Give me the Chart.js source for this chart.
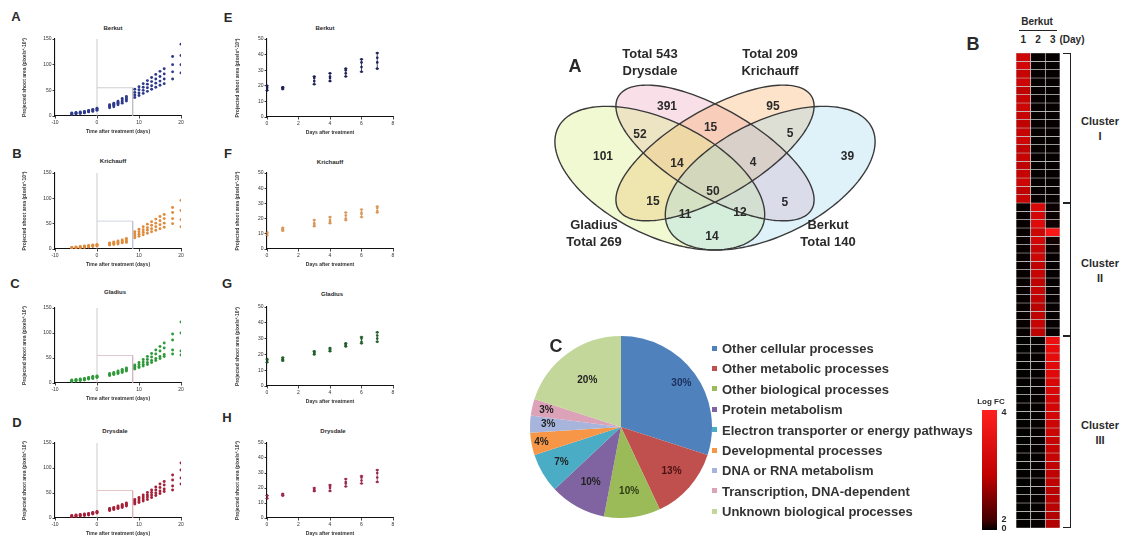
<!DOCTYPE html>
<html><head><meta charset="utf-8">
<script src="https://cdn.jsdelivr.net/npm/chart.js@4.4.1/dist/chart.umd.min.js"></script>
<style>
body{margin:0;width:1126px;height:539px;background:#fff;position:relative;overflow:hidden;font-family:"Liberation Sans",Arial,sans-serif;}
canvas{position:absolute;}
.t{position:absolute;white-space:nowrap;color:#2a2a2a;font-weight:bold;transform:translate(-50%,-50%);line-height:1;}
.br{position:absolute;border:1.3px solid #222;border-left:none;box-sizing:border-box;}
</style></head><body>
<script>
// ---------------- DATA ----------------
const LEFT_DAYS = [-6,-5,-4,-3,-2,-1,0,3,4,5,6,7,9,10,11,12,13,14,15,16,18,20];
const BERKUT_L = [
 [3,4,5,6,8,9,11,16,18,22,25,29,36,40,44,48,52,56,60,63,72,84],
 [4,5,6,7,9,10,12,18,21,25,28,32,41,45,50,55,59,64,68,72,86,100],
 [5,6,7,8,10,12,14,20,23,27,31,35,46,51,56,62,67,72,77,82,100,118],
 [6,7,8,9,11,13,15,22,25,29,34,38,52,57,63,69,75,81,87,92,116,140]];
const KRICHAUFF_L = [
 [1,2,2,3,4,5,6,8,9,10,12,13,22,25,28,31,34,37,40,43,50,44],
 [2,3,3,4,5,6,7,9,11,12,14,15,26,29,33,37,40,44,48,51,60,58],
 [3,3,4,5,6,7,8,11,12,14,16,18,30,34,38,42,47,51,56,60,72,76],
 [3,4,5,6,7,8,9,12,14,16,18,21,34,39,44,49,54,59,64,68,82,96]];
const GLADIUS_L = [
 [3,4,5,6,8,9,11,15,17,19,21,24,28,31,34,37,41,45,49,53,58,56],
 [4,5,6,7,9,10,12,16,18,20,23,26,30,33,37,41,45,49,53,57,66,64],
 [5,6,7,8,10,12,13,17,19,22,25,28,33,37,42,47,52,58,64,70,86,100],
 [6,7,8,9,11,13,14,19,21,24,27,30,36,41,47,53,59,66,73,80,98,122]];
const DRYSDALE_L = [
 [2,3,4,5,6,8,10,15,17,19,21,24,28,31,34,37,41,45,49,53,56,68],
 [3,4,5,6,7,9,11,16,18,20,23,26,31,34,38,42,46,50,54,58,64,80],
 [4,5,6,7,8,10,12,18,20,22,25,28,34,38,42,46,51,56,61,66,76,96],
 [5,6,7,8,9,11,13,19,21,24,27,30,37,41,46,51,56,62,68,73,86,110]];
const RIGHT_DAYS = [0,1,3,4,5,6,7];
const BERKUT_R = [[17,18,21,23,26,29,31],[18,18,23,25,28,32,35],[19,19,25,26,30,35,38],[20,19,26,28,31,37,41]];
const KRICHAUFF_R = [[9,12,15,17,19,21,24],[10,13,16,18,20,23,25],[10,13,17,19,22,24,27],[11,14,19,21,24,26,28]];
const GLADIUS_R = [[15,16,20,22,25,27,28],[16,17,21,23,26,28,30],[16,17,21,23,26,30,32],[17,18,22,24,27,31,34]];
const DRYSDALE_R = [[13,15,18,18,21,23,24],[14,15,18,20,23,25,27],[15,16,19,21,24,27,30],[15,16,20,22,26,28,32]];
const ZOOM_BOX_DAYS = [0, 8.5];
const ZOOM_BOX_AREA = [0, 55];

const VENN_SETS = ['Drysdale','Krichauff','Gladius','Berkut'];
const VENN_TOTALS = [543, 209, 269, 140];
const VENN_COUNTS = [391,95,52,15,5,101,14,4,39,50,15,5,11,12,14];

const PIE_LABELS = ['Other cellular processes','Other metabolic processes','Other biological processes','Protein metabolism','Electron transporter or energy pathways','Developmental processes','DNA or RNA metabolism','Transcription, DNA-dependent','Unknown biological processes'];
const PIE_VALUES = [30,13,10,10,7,4,3,3,20];

const HM_DAYS = ['1','2','3'];
const CLUSTER_NAMES = ['I','II','III'];
const CLUSTER_SIZES = [18,16,23];
const HM_DAY1 = [3.2,3.3,3.1,3.2,3.0,3.1,3.2,3.1,3.0,3.1,3.2,3.0,3.1,3.0,3.1,3.2,3.0,3.1,
 0.1,0.1,0.1,0.1,0.1,0.1,0.1,0.1,0.1,0.1,0.1,0.1,0.1,0.1,0.1,0.1,
 0.05,0.05,0.05,0.05,0.05,0.05,0.05,0.05,0.05,0.05,0.05,0.05,0.05,0.05,0.05,0.05,0.05,0.05,0.05,0.05,0.05,0.05,0.05];
const HM_DAY2 = [0.1,0.1,0.1,0.1,0.1,0.1,0.1,0.1,0.1,0.1,0.1,0.1,0.1,0.1,0.1,0.1,0.1,0.1,
 3.4,3.3,3.5,3.2,3.3,3.1,3.2,3.0,3.1,3.0,3.1,3.0,2.9,3.0,3.1,3.0,
 0.1,0.1,0.1,0.1,0.1,0.1,0.1,0.1,0.1,0.1,0.1,0.1,0.1,0.1,0.1,0.1,0.1,0.1,0.1,0.1,0.1,0.1,0.1];
const HM_DAY3 = [0.1,0.1,0.1,0.1,0.1,0.1,0.1,0.1,0.1,0.1,0.1,0.1,0.1,0.1,0.1,0.1,0.1,0.1,
 0.2,0.2,0.3,3.9,0.3,0.2,0.1,0.1,0.1,0.1,0.1,0.1,0.1,0.1,0.1,0.1,
 3.7,3.6,3.6,3.5,3.5,3.4,3.4,3.3,3.3,3.3,3.2,3.2,3.1,3.1,3.1,3.0,3.0,3.0,2.9,2.9,2.9,2.8,2.8];
const LOGFC_TICKS = ['4','2','0'];

// ---------------- HELPERS ----------------
Chart.defaults.font.family = '"Liberation Sans", Arial, sans-serif';
Chart.defaults.animation = false;
function mkCanvas(l,t,w,h){const c=document.createElement('canvas');c.width=w;c.height=h;
 Object.assign(c.style,{left:l+'px',top:t+'px',width:w+'px',height:h+'px'});document.body.appendChild(c);return c;}
function txt(x,y,s,size,extra){const d=document.createElement('div');d.className='t';d.textContent=s;
 d.style.left=x+'px';d.style.top=y+'px';d.style.fontSize=size+'px';if(extra)Object.assign(d.style,extra);document.body.appendChild(d);return d;}

// error bars (min..max of replicates) drawn through the chart scales
const errorBarPlugin={id:'errbars',afterDatasetsDraw(chart,args,opts){
 if(!opts.reps)return;const ctx=chart.ctx,xs=chart.scales.x,ys=chart.scales.y;
 ctx.save();ctx.strokeStyle=opts.color;ctx.lineWidth=0.8;
 opts.days.forEach((d,i)=>{const vals=opts.reps.map(r=>r[i]);const lo=Math.min(...vals),hi=Math.max(...vals);
  const x=xs.getPixelForValue(d),y0=ys.getPixelForValue(lo),y1=ys.getPixelForValue(hi);
  ctx.beginPath();ctx.moveTo(x,y0);ctx.lineTo(x,y1);ctx.moveTo(x-1.8,y0);ctx.lineTo(x+1.8,y0);ctx.moveTo(x-1.8,y1);ctx.lineTo(x+1.8,y1);ctx.stroke();});
 ctx.restore();}};

function panel(p){
 const xH=21, padL=1;
 const box={l:p.area.l-p.yW-padL, t:p.area.t-7, r:p.area.r+10};
 box.w=box.r-box.l; box.h=p.area.b+xH+1-box.t;
 const c=mkCanvas(box.l,box.t,box.w,box.h);
 const pts=[]; p.reps.forEach(r=>r.forEach((v,i)=>pts.push({x:p.days[i],y:v})));
 const ds=[{data:pts,backgroundColor:p.color,borderWidth:0,pointRadius:p.guides?1.45:1.3,order:1}];
 if(p.guides){
  ds.push({data:[{x:0,y:p.yMin},{x:0,y:p.yMax}],showLine:true,borderColor:'#b4b4b4',borderWidth:0.7,pointRadius:0,order:3});
  ds.push({data:[{x:ZOOM_BOX_DAYS[0],y:ZOOM_BOX_AREA[1]},{x:ZOOM_BOX_DAYS[1],y:ZOOM_BOX_AREA[1]},{x:ZOOM_BOX_DAYS[1],y:ZOOM_BOX_AREA[0]}],showLine:true,borderColor:p.boxColor,borderWidth:0.7,pointRadius:0,order:2});
 }
 new Chart(c,{type:'scatter',data:{datasets:ds},plugins:[errorBarPlugin],options:{responsive:false,
  layout:{padding:{left:padL,top:p.area.t-box.t,right:box.r-p.area.r,bottom:box.t+box.h-p.area.b-xH}},
  plugins:{legend:{display:false},tooltip:{enabled:false},errbars:p.guides?{}:{reps:p.reps,days:p.days,color:p.color}},
  scales:{
   x:{type:'linear',min:p.xMin,max:p.xMax,afterFit:s=>{s.height=xH;},
      ticks:{stepSize:p.xStep,font:{size:5},color:'#333',padding:1,maxRotation:0},
      grid:{drawOnChartArea:false,tickLength:2.5,color:'#111',lineWidth:0.8},border:{color:'#111',width:1.1},
      title:{display:true,text:p.xTitle,font:{size:5,weight:'bold'},color:'#333',padding:{top:0,bottom:2}}},
   y:{type:'linear',min:p.yMin,max:p.yMax,afterFit:s=>{s.width=p.yW;},
      ticks:{stepSize:p.yStep,font:{size:5},color:'#333',padding:1},
      grid:{drawOnChartArea:false,tickLength:2.5,color:'#111',lineWidth:0.8},border:{color:'#111',width:1.1},
      title:{display:true,text:'Projected shoot area (pixels\u00b2\u00b710\u00b3)',font:{size:5,weight:'bold'},color:'#333',padding:{top:1,bottom:1}}}
  }}});
 txt(p.letter[1],p.letter[2],p.letter[0],13);
 txt(p.title[1],p.title[2],p.title[0],6);
}

// ---------------- SCATTER PANELS ----------------
const leftCommon={days:LEFT_DAYS,xMin:-10,xMax:20,xStep:10,yMin:0,yMax:150,yStep:50,xTitle:'Time after treatment (days)',yW:34,guides:true};
panel({...leftCommon,area:{l:55,t:39,r:181,b:116},reps:BERKUT_L,color:'#2d3a8c',boxColor:'#b8b8b8',letter:['A',16,16],title:['Berkut',113,28]});
panel({...leftCommon,area:{l:55,t:173,r:181,b:249},reps:KRICHAUFF_L,color:'#e08a3c',boxColor:'#b8c0d0',letter:['B',17,153],title:['Krichauff',113,161]});
panel({...leftCommon,area:{l:55,t:308,r:181,b:383},reps:GLADIUS_L,color:'#2f9a3a',boxColor:'#d0b0c0',letter:['C',15,283],title:['Gladius',115,292]});
panel({...leftCommon,area:{l:55,t:443,r:181,b:518},reps:DRYSDALE_L,color:'#a52038',boxColor:'#d8b0b0',letter:['D',17,422],title:['Drysdale',115,431]});
const rightCommon={days:RIGHT_DAYS,xMin:0,xMax:8,xStep:2,yMin:0,yMax:50,yStep:10,xTitle:'Days after treatment',yW:33,guides:false};
panel({...rightCommon,area:{l:267,t:39,r:393,b:117},reps:BERKUT_R,color:'#1f2458',letter:['E',228,17],title:['Berkut',325,28]});
panel({...rightCommon,area:{l:267,t:173,r:393,b:249},reps:KRICHAUFF_R,color:'#d9985c',letter:['F',228,153],title:['Krichauff',330,162]});
panel({...rightCommon,area:{l:267,t:307,r:393,b:386},reps:GLADIUS_R,color:'#24602e',letter:['G',227,283],title:['Gladius',332,294]});
panel({...rightCommon,area:{l:267,t:443,r:393,b:518},reps:DRYSDALE_R,color:'#9c2c4c',letter:['H',227,417],title:['Drysdale',333,431]});

// ---------------- VENN ----------------
(function(){
 const ellipses=[ // centre, semi-axes, angle (unit space, y up)
  {cx:0.50,cy:0.57,a:0.35,b:0.15,rot:-45,fill:'rgba(236,150,178,0.30)'},
  {cx:0.50,cy:0.57,a:0.35,b:0.15,rot:45,fill:'rgba(246,170,95,0.33)'},
  {cx:0.35,cy:0.47,a:0.35,b:0.20,rot:-45,fill:'rgba(214,236,120,0.33)'},
  {cx:0.65,cy:0.47,a:0.35,b:0.20,rot:45,fill:'rgba(150,212,238,0.30)'}];
 const countPos=[[0.3696,0.7525],[0.6576,0.7525],[0.2962,0.641],[0.488,0.669],[0.7038,0.645],[0.1957,0.554],[0.3967,0.526],[0.6033,0.53],[0.86,0.554],[0.4946,0.415],[0.3315,0.375],[0.69,0.3715],[0.4185,0.324],[0.568,0.332],[0.4918,0.2366]];
 const plugin={id:'venn',afterDraw(chart){
  const ctx=chart.ctx,xs=chart.scales.x,ys=chart.scales.y;
  const path=e=>{ctx.beginPath();const r=e.rot*Math.PI/180;
   for(let k=0;k<=160;k++){const t=k/160*2*Math.PI;
    const u=e.cx+e.a*Math.cos(t)*Math.cos(r)-e.b*Math.sin(t)*Math.sin(r);
    const v=e.cy+e.a*Math.cos(t)*Math.sin(r)+e.b*Math.sin(t)*Math.cos(r);
    const px=xs.getPixelForValue(u),py=ys.getPixelForValue(v);k?ctx.lineTo(px,py):ctx.moveTo(px,py);}ctx.closePath();};
  ctx.save();
  ellipses.forEach(e=>{path(e);ctx.fillStyle=e.fill;ctx.fill();});
  ctx.strokeStyle='#3a3a3a';ctx.lineWidth=1.4;
  ellipses.forEach(e=>{path(e);ctx.stroke();});
  ctx.fillStyle='#2a2a2a';ctx.font='bold 12px "Liberation Sans"';ctx.textAlign='center';ctx.textBaseline='middle';
  VENN_COUNTS.forEach((n,i)=>ctx.fillText(String(n),xs.getPixelForValue(countPos[i][0]),ys.getPixelForValue(countPos[i][1])));
  ctx.restore();}};
 const c=mkCanvas(527,40,380,262);
 new Chart(c,{type:'scatter',data:{datasets:[{data:[]}]},plugins:[plugin],options:{responsive:false,
  layout:{padding:{left:4,right:8,top:4.6,bottom:5.4}},plugins:{legend:{display:false},tooltip:{enabled:false}},
  scales:{x:{min:0,max:1,display:false},y:{min:0,max:1,display:false}}}});
 txt(575,66,'A',18);
 txt(650,53,'Total '+VENN_TOTALS[0],13);txt(650,70,VENN_SETS[0],13);
 txt(770,53,'Total '+VENN_TOTALS[1],13);txt(770,70,VENN_SETS[1],13);
 txt(594,224,VENN_SETS[2],13);txt(594,241,'Total '+VENN_TOTALS[2],13);
 txt(828,224,VENN_SETS[3],13);txt(828,241,'Total '+VENN_TOTALS[3],13);
})();

// ---------------- PIE ----------------
(function(){
 const colors=['#4f81bd','#c0504d','#9bbb59','#8064a2','#4bacc6','#f79646','#a7b5dc','#dca3b8','#c4d79b'];
 const labCol=['#1c2f5c','#4a1212','#2e3c12','#222','#222','#222','#222','#222','#222'];
 const rf=[0.82,0.74,0.71,0.69,0.76,0.89,0.8,0.84,0.63];
 const plugin={id:'pielab',afterDatasetsDraw(chart){const ctx=chart.ctx;const meta=chart.getDatasetMeta(0);
  ctx.save();ctx.font='bold 10px "Liberation Sans"';ctx.textAlign='center';ctx.textBaseline='middle';
  meta.data.forEach((arc,i)=>{const p=arc.getProps(['x','y','startAngle','endAngle','outerRadius'],true);
   const a=(p.startAngle+p.endAngle)/2,r=p.outerRadius*rf[i];ctx.fillStyle=labCol[i];
   ctx.fillText(PIE_VALUES[i]+'%',p.x+r*Math.cos(a),p.y+r*Math.sin(a));});ctx.restore();}};
 const c=mkCanvas(527,333,188,188);
 new Chart(c,{type:'pie',data:{labels:PIE_LABELS,datasets:[{data:PIE_VALUES,backgroundColor:colors,borderWidth:0}]},plugins:[plugin],
  options:{responsive:false,layout:{padding:3},plugins:{legend:{display:false},tooltip:{enabled:false}}}});
 txt(556,346,'C',18);
 PIE_LABELS.forEach((l,i)=>{const y=348+i*20.4;
  const sq=document.createElement('div');Object.assign(sq.style,{position:'absolute',left:'712px',top:(y-2.5)+'px',width:'5px',height:'5px',background:colors[i]});document.body.appendChild(sq);
  txt(722,y,l,13,{transform:'translate(0,-50%)',color:'#333'});});
})();

// ---------------- HEATMAP ----------------
(function(){
 const total=CLUSTER_SIZES.reduce((a,b)=>a+b,0);
 const area={l:1016,r:1060,t:53,b:528};
 const col=v=>{const f=Math.max(0,Math.min(1,v/4));const r=Math.round(255*f),g=Math.round(28*Math.pow(f,8));return `rgb(${r},${g},${g})`;};
 const ds=[];
 for(let r=0;r<total;r++){ds.push({data:[1,1,1],backgroundColor:[col(HM_DAY1[r]),col(HM_DAY2[r]),col(HM_DAY3[r])],
  borderColor:'#c8c8c8',borderWidth:0.7,borderSkipped:false,barPercentage:1,categoryPercentage:1,stack:'s'});}
 const c=mkCanvas(area.l-1,area.t-1,area.r-area.l+2,area.b-area.t+2);
 new Chart(c,{type:'bar',data:{labels:HM_DAYS,datasets:ds},options:{responsive:false,layout:{padding:1},
  plugins:{legend:{display:false},tooltip:{enabled:false}},
  scales:{x:{stacked:true,display:false},y:{stacked:true,min:0,max:total,reverse:true,display:false}}}});
 const rowH=(area.b-area.t)/total, colW=(area.r-area.l)/3;
 txt(973,44,'B',18);
 txt(1037,22,'Berkut',10);
 const ul=document.createElement('div');Object.assign(ul.style,{position:'absolute',left:'1019px',top:'30px',width:'38px',height:'1.2px',background:'#222'});document.body.appendChild(ul);
 HM_DAYS.forEach((d,i)=>txt(area.l+colW*(i+0.5),40,d,10));
 txt(1072,40,'(Day)',10);
 let start=0;
 CLUSTER_SIZES.forEach((n,i)=>{const y0=area.t+start*rowH,y1=area.t+(start+n)*rowH;
  const b=document.createElement('div');b.className='br';Object.assign(b.style,{left:'1063px',top:y0+'px',width:'8px',height:(y1-y0)+'px'});document.body.appendChild(b);
  const ym=(y0+y1)/2;txt(1100,ym-7,'Cluster',11);txt(1100,ym+8,CLUSTER_NAMES[i],11);start+=n;});
 const cb=document.createElement('div');Object.assign(cb.style,{position:'absolute',left:'982px',top:'410px',width:'15px',height:'120px',background:'linear-gradient(to bottom,#ff2020,#c00000 55%,#400000 92%,#000)'});document.body.appendChild(cb);
 txt(991,402,'Log FC',8);
 txt(1004,412,LOGFC_TICKS[0],9);txt(1004,519,LOGFC_TICKS[1],9);txt(1004,528,LOGFC_TICKS[2],9);
})();
</script>
</body></html>
